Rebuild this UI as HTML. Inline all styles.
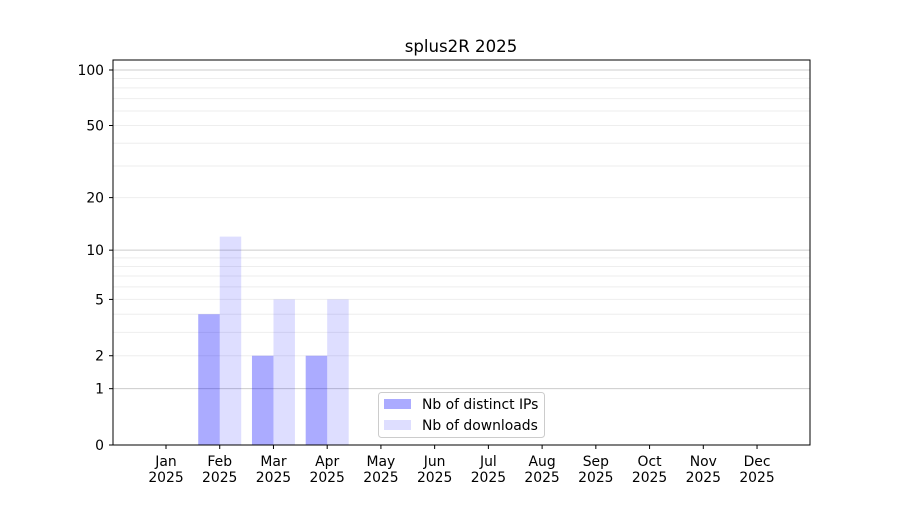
<!DOCTYPE html>
<html><head><style>body{margin:0;background:#fff}svg{font-family:"DejaVu Sans","Liberation Sans",sans-serif}</style></head>
<body>
<svg width="900" height="500" xmlns="http://www.w3.org/2000/svg">
<rect width="900" height="500" fill="#fff"/>
<g id="grid"></g>
<g id="bars"></g>
<rect x="113" y="60" width="697" height="385" fill="none" stroke="#000" stroke-width="1"/>
<g id="ticks" font-size="13.9" fill="#000"></g>
<text x="461" y="52" font-size="16.6" text-anchor="middle">splus2R 2025</text>
<g font-size="13.9">
<rect x="378.5" y="392.5" width="166" height="45" rx="3" fill="#fff" fill-opacity="0.8" stroke="#ccc"/>
<rect x="384" y="399" width="27" height="10" fill="#0000ff" fill-opacity="0.33"/>
<text x="422" y="409">Nb of distinct IPs</text>
<rect x="384" y="420" width="27" height="10" fill="#0000ff" fill-opacity="0.13"/>
<text x="422" y="430">Nb of downloads</text>
</g>
</svg>
<script>
const ns="http://www.w3.org/2000/svg";
function y(v){return 445-187.1*Math.log10(1+v);}
function el(t,a,p,txt){const e=document.createElementNS(ns,t);for(const k in a)e.setAttribute(k,a[k]);if(txt!==undefined)e.textContent=txt;document.getElementById(p).appendChild(e);return e;}
for(const d of [1,10]){for(let i=1;i<=9;i++){const v=d*i;const yy=y(v);const major=(i==1);
el("line",{x1:113,x2:810,y1:yy,y2:yy,stroke:major?"#ccc":"#eee","stroke-width":1},"grid");}}
el("line",{x1:113,x2:810,y1:y(100),y2:y(100),stroke:"#ccc"},"grid");
const months=["Jan","Feb","Mar","Apr","May","Jun","Jul","Aug","Sep","Oct","Nov","Dec"];
const ips=[0,4,2,2],dl=[0,12,5,5];
for(let i=0;i<12;i++){const cx=166+i*53.73;
if(i<4&&ips[i]>0){el("rect",{x:cx-21.5,y:y(ips[i]),width:21.5,height:445-y(ips[i]),fill:"#0000ff","fill-opacity":0.33},"bars");
el("rect",{x:cx,y:y(dl[i]),width:21.5,height:445-y(dl[i]),fill:"#0000ff","fill-opacity":0.13},"bars");}
el("line",{x1:cx,x2:cx,y1:445,y2:449,stroke:"#000"},"ticks");
el("text",{x:cx,y:466,"text-anchor":"middle"},"ticks",months[i]);
el("text",{x:cx,y:482,"text-anchor":"middle"},"ticks","2025");}
for(const v of [0,1,2,5,10,20,50,100]){const yy=y(v);
el("line",{x1:109,x2:113,y1:yy,y2:yy,stroke:"#000"},"ticks");
el("text",{x:104,y:yy+5,"text-anchor":"end"},"ticks",String(v));}
</script>
</body></html>
